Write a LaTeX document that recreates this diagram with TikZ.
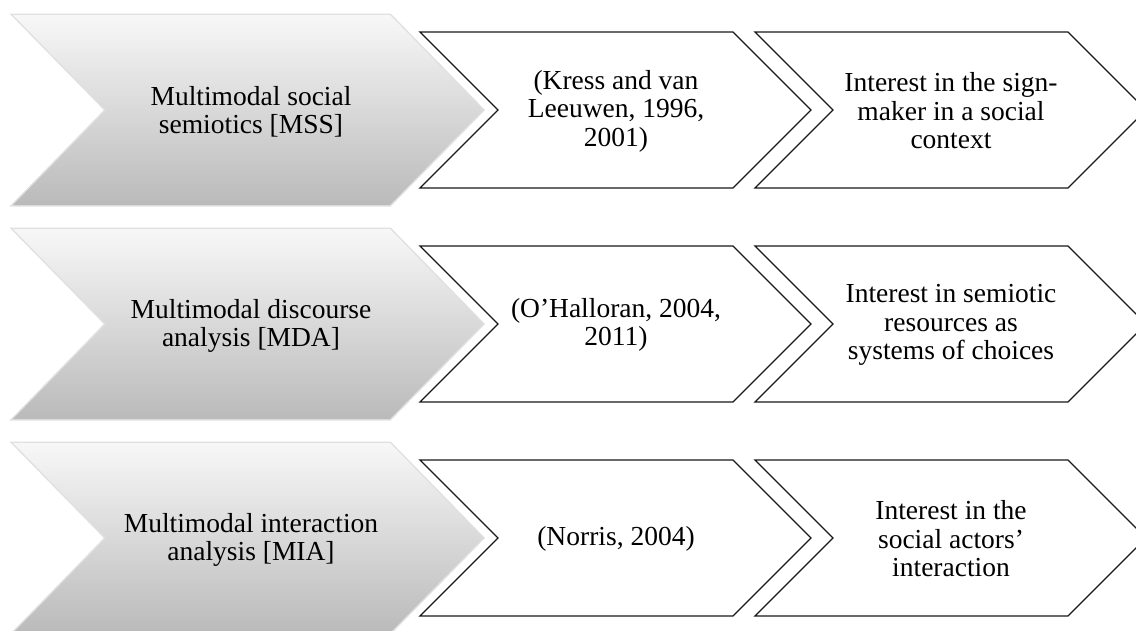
\documentclass[tikz,border=0pt]{standalone}
\usepackage{fontspec}
\setmainfont{Liberation Serif}
\begin{document}
\begin{tikzpicture}[x=1pt,y=-1pt,
  greychev/.style={top color=black!3, bottom color=black!27, draw=none},
  greyglow/.style={draw=black!35, line width=3pt, opacity=0.35},
  whitechev/.style={fill=white, draw=black!90, line width=1.3pt, line join=miter},
  label/.style={align=center, font=\fontsize{27.5}{28.5}\selectfont, text=black, inner sep=0pt}]
\useasboundingbox (0,0) rectangle (1136,630);
\clip (0,0) rectangle (1136,630);
\foreach \yc/\nm in {110/1,324/2,538/3}{
  % grey chevron
  \path[greyglow] (13,\yc-95) -- (390,\yc-95) -- (483,\yc) -- (390,\yc+95) -- (13,\yc+95) -- (106,\yc) -- cycle;
  \path[greychev] (13,\yc-95) -- (390,\yc-95) -- (483,\yc) -- (390,\yc+95) -- (13,\yc+95) -- (106,\yc) -- cycle;
  % first white chevron
  \path[whitechev] (420,\yc-78) -- (733,\yc-78) -- (811,\yc) -- (733,\yc+78) -- (420,\yc+78) -- (498,\yc) -- cycle;
  % second white chevron
  \path[whitechev] (755,\yc-78) -- (1068,\yc-78) -- (1146,\yc) -- (1068,\yc+78) -- (755,\yc+78) -- (833,\yc) -- cycle;
}
\node[label] (g1) at (251,112) {Multimodal social\\semiotics [MSS]};
\node[label] (a1) at (616,111) {(Kress and van\\Leeuwen, 1996,\\2001)};
\node[label] (b1) at (951,111) {Interest in the sign-\\maker in a social\\context};
\node[label] (g2) at (251,326) {Multimodal discourse\\analysis [MDA]};
\node[label] (a2) at (616,325) {(O’Halloran, 2004,\\2011)};
\node[label] (b2) at (951,325) {Interest in semiotic\\resources as\\systems of choices};
\node[label] (g3) at (251,540) {Multimodal interaction\\analysis [MIA]};
\node[label] (a3) at (616,539) {(Norris, 2004)};
\node[label] (b3) at (951,539) {Interest in the\\social actors’\\interaction};
\end{tikzpicture}
\end{document}
